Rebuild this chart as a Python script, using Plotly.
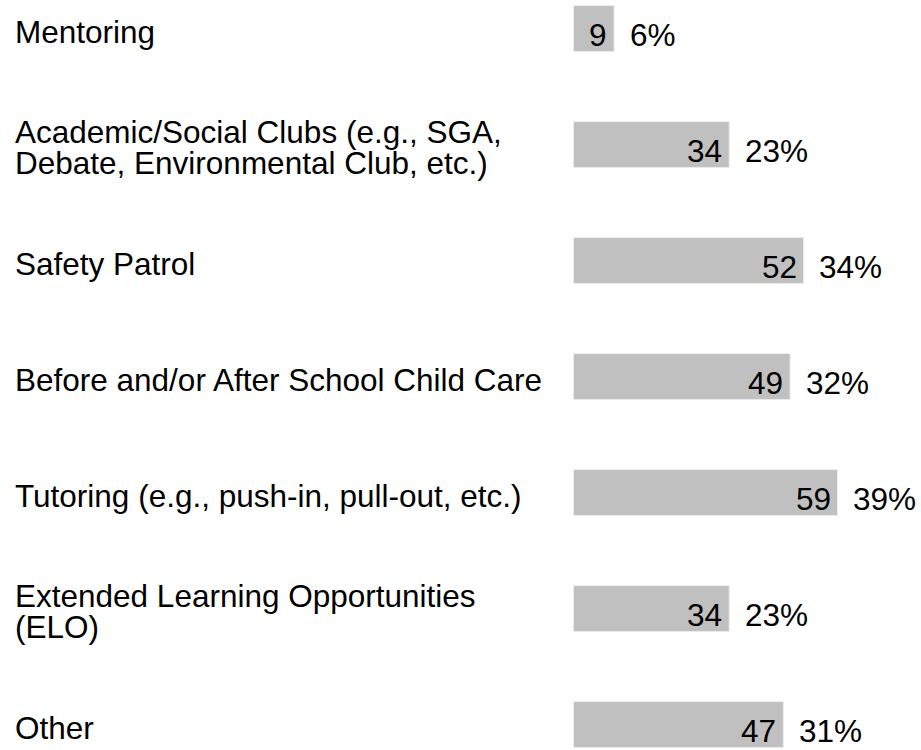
import plotly.graph_objects as go

categories = [
    "Mentoring",
    "Academic/Social Clubs (e.g., SGA,\nDebate, Environmental Club, etc.)",
    "Safety Patrol",
    "Before and/or After School Child Care",
    "Tutoring (e.g., push-in, pull-out, etc.)",
    "Extended Learning Opportunities\n(ELO)",
    "Other",
]
counts = [9, 34, 52, 49, 59, 34, 47]
percents = [6, 23, 34, 32, 39, 23, 31]

FONT = "Arial, 'Liberation Sans', sans-serif"
FS = 31.5
W, H = 921, 750
x_left_px = 573.5
px_per_pct = 6.77
row_px = 116.0
first_center_px = 28.6

ypos = list(range(len(categories)))

fig = go.Figure()
fig.add_trace(go.Bar(
    x=percents,
    y=ypos,
    orientation="h",
    width=0.397,
    marker=dict(color="#c0c0c0", line=dict(color="#eeeeee", width=1)),
    hoverinfo="skip",
))

annotations = []
for i, (cat, c, p) in enumerate(zip(categories, counts, percents)):
    lines = cat.split("\n")
    if len(lines) == 1:
        shifts = [-3.5]
    else:
        shifts = [13.0, -18.5]
    for ln, sh in zip(lines, shifts):
        annotations.append(dict(
            text=ln, xref="paper", x=13 / W, yref="y", y=i,
            xanchor="left", yanchor="middle", yshift=sh,
            showarrow=False, font=dict(family=FONT, size=FS, color="#000000"),
        ))
    annotations.append(dict(
        text=str(c), xref="x", x=p, yref="y", y=i,
        xanchor="right", yanchor="middle", xshift=-5, yshift=-6.5,
        showarrow=False, font=dict(family=FONT, size=FS, color="#000000"),
    ))
    annotations.append(dict(
        text=f"{p}%", xref="x", x=p, yref="y", y=i,
        xanchor="left", yanchor="middle", xshift=13.5, yshift=-6.5,
        showarrow=False, font=dict(family=FONT, size=FS, color="#000000"),
    ))

y_top = -first_center_px / row_px
y_bot = y_top + H / row_px

fig.update_layout(
    width=W, height=H,
    margin=dict(l=0, r=0, t=0, b=0),
    paper_bgcolor="white", plot_bgcolor="white",
    showlegend=False,
    xaxis=dict(domain=[x_left_px / W, 1], range=[0, (W - x_left_px) / px_per_pct],
               visible=False, fixedrange=True),
    yaxis=dict(range=[y_bot, y_top], visible=False, fixedrange=True),
    annotations=annotations,
)

fig.write_html("out.html")
